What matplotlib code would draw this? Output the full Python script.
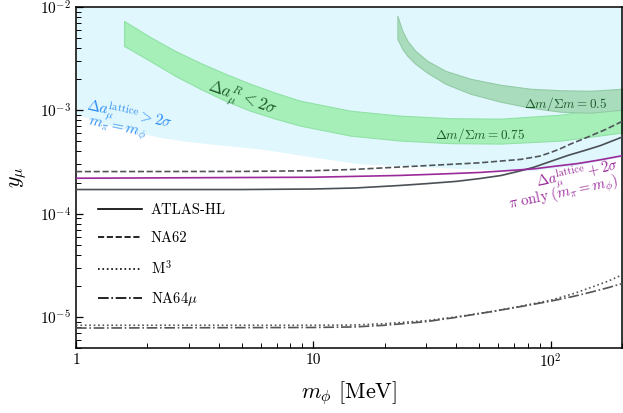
import matplotlib
matplotlib.use('Agg')
import matplotlib.pyplot as plt
from matplotlib.lines import Line2D

plt.rcParams['font.family'] = 'serif'
plt.rcParams['font.serif'] = ['cmr10']
plt.rcParams['mathtext.fontset'] = 'cm'
plt.rcParams['axes.formatter.use_mathtext'] = True

# lower edge of the lattice > 2 sigma region (region extends to top of plot)
lat_x = [1.0, 1.18, 1.391, 1.773, 2.26, 2.88, 3.67, 5.98, 9.7, 15.8, 23.3, 41.7, 84.8, 134, 200]
lat_y = [9.2e-4, 8.11e-4, 7.1e-4, 6.21e-4, 5.47e-4, 5.03e-4, 4.73e-4, 4.23e-4, 3.56e-4,
         3.03e-4, 2.92e-4, 2.73e-4, 2.61e-4, 2.99e-4, 3.56e-4]

# Delta m / Sigma m = 0.75 band
b75_x = [1.594, 2.052, 2.617, 3.336, 4.254, 5.424, 6.915, 8.815, 14.33, 23.29, 37.85, 61.52, 110.2, 200]
b75_hi = [7.33e-3, 5.13e-3, 3.76e-3, 2.88e-3, 2.26e-3, 1.806e-3, 1.479e-3, 1.238e-3, 9.91e-4,
          8.87e-4, 8.39e-4, 8.30e-4, 9.07e-4, 1.107e-3]
b75_lo = [4.20e-3, 3.01e-3, 2.158e-3, 1.616e-3, 1.238e-3, 9.91e-4, 8.30e-4, 7.10e-4, 5.69e-4,
          5.09e-4, 4.81e-4, 4.76e-4, 5.09e-4, 6.08e-4]

# Delta m / Sigma m = 0.5 band
b50_x = [22.62, 23.74, 24.93, 26.94, 30.27, 36.06, 45.97, 61.52, 82.34, 110.2, 147.5, 200]
b50_hi = [8.19e-3, 5.87e-3, 4.70e-3, 3.76e-3, 3.01e-3, 2.41e-3, 2.018e-3, 1.767e-3, 1.616e-3,
          1.563e-3, 1.546e-3, 1.616e-3]
b50_lo = [4.91e-3, 3.93e-3, 3.365e-3, 2.817e-3, 2.306e-3, 1.806e-3, 1.446e-3, 1.211e-3, 1.059e-3,
          9.69e-4, 9.48e-4, 1.013e-3]

# lattice + 2 sigma, pi only
pi_x = [1, 10, 23, 35, 50, 65, 85, 105, 130, 160, 200]
pi_y = [2.2e-4, 2.25e-4, 2.34e-4, 2.42e-4, 2.5e-4, 2.6e-4, 2.71e-4, 2.88e-4, 3.05e-4, 3.3e-4, 3.63e-4]

# experiments
atlas_x = [1, 5, 10, 15, 23, 30, 40, 50, 62, 75, 85, 100, 118, 140, 162, 200]
atlas_y = [1.71e-4, 1.71e-4, 1.73e-4, 1.77e-4, 1.87e-4, 1.95e-4, 2.05e-4, 2.18e-4, 2.34e-4,
           2.6e-4, 2.81e-4, 3.2e-4, 3.65e-4, 4.1e-4, 4.55e-4, 5.5e-4]

na62_x = [1, 5, 10, 15, 25, 35, 50, 75, 90, 100, 110, 121, 135, 150, 170, 200]
na62_y = [2.55e-4, 2.56e-4, 2.6e-4, 2.68e-4, 2.85e-4, 2.97e-4, 3.1e-4, 3.35e-4, 3.6e-4, 3.9e-4,
          4.25e-4, 4.7e-4, 5.2e-4, 5.75e-4, 6.5e-4, 7.8e-4]

m3_x = [1, 10, 15, 20, 30, 40, 57, 75, 100, 125, 150, 175, 200]
m3_y = [8.3e-6, 8.3e-6, 8.35e-6, 8.6e-6, 9.2e-6, 1.0e-5, 1.13e-5, 1.27e-5, 1.45e-5, 1.68e-5,
        1.95e-5, 2.22e-5, 2.55e-5]

na64_x = [1, 10, 15, 20, 30, 40, 57, 75, 100, 125, 150, 175, 200]
na64_y = [7.8e-6, 7.9e-6, 8.0e-6, 8.3e-6, 9.0e-6, 9.9e-6, 1.13e-5, 1.26e-5, 1.42e-5, 1.58e-5,
          1.75e-5, 1.92e-5, 2.1e-5]

legend_labels = ['ATLAS-HL', 'NA62', r'M$^3$', r'NA64$\mu$']
xtick_vals = [1, 10, 100]
xtick_labels = ['1', '10', r'$10^2$']

fig = plt.figure(figsize=(6.23, 4.13), dpi=100)
ax = fig.add_axes([76/623, 65/413, 546/623, 341/413])
ax.set_xscale('log')
ax.set_yscale('log')
ax.set_xlim(1, 200)
ax.set_ylim(5e-6, 1e-2)

ax.fill_between(lat_x, lat_y, 1e-2, color='#e0f7fd', lw=0, zorder=1)
ax.fill_between(b75_x, b75_lo, b75_hi, color='#a6efb9', edgecolor='#90e2a6', lw=0.8, zorder=2)
ax.fill_between(b50_x, b50_lo, b50_hi, color='#a9dcbc', edgecolor='#93cba6', lw=0.8, zorder=2)

ax.plot(pi_x, pi_y, color='#9a2a9a', lw=1.2, zorder=4)
ax.plot(atlas_x, atlas_y, '-', color='#4a5055', lw=1.2, zorder=3)
ax.plot(na62_x, na62_y, '--', color='#50555a', lw=1.2, zorder=3)
ax.plot(m3_x, m3_y, ':', color='#555555', lw=1.2, zorder=3)
ax.plot(na64_x, na64_y, '-.', color='#555555', lw=1.2, zorder=3)

# legend uses black handles
handles = [Line2D([], [], color='k', ls=s, lw=1.2) for s in ['-', '--', ':', '-.']]
ax.legend(handles, legend_labels, loc='upper left',
          bbox_to_anchor=(0.017, 0.462), frameon=False, fontsize=10.5,
          labelspacing=0.95, handlelength=3.0, handletextpad=0.6)

tr = ax.transAxes
green = '#1d5a2a'
blue = '#2b8cf2'
purple = '#9a2a9a'
ax.text(0.304, 0.732, r'$\Delta a_\mu^R < 2\sigma$', transform=tr, color=green,
        fontsize=12, rotation=-20, ha='center', va='center', rotation_mode='anchor', zorder=5)
ax.text(0.097, 0.681, r'$\Delta a_\mu^{\rm lattice} > 2\sigma$', transform=tr, color=blue,
        fontsize=11, rotation=-12, ha='center', va='center', rotation_mode='anchor', zorder=5)
ax.text(0.075, 0.640, r'$m_\pi = m_\phi$', transform=tr, color=blue,
        fontsize=11, rotation=-12, ha='center', va='center', rotation_mode='anchor', zorder=5)
ax.text(0.740, 0.626, r'$\Delta m/\Sigma m = 0.75$', transform=tr, color=green,
        fontsize=9.5, ha='center', va='center', zorder=5)
ax.text(0.897, 0.715, r'$\Delta m/\Sigma m = 0.5$', transform=tr, color=green,
        fontsize=9.5, ha='center', va='center', zorder=5)
ax.text(0.918, 0.509, r'$\Delta a_\mu^{\rm lattice} + 2\sigma$', transform=tr, color=purple,
        fontsize=10.5, rotation=12, ha='center', va='center', rotation_mode='anchor', zorder=5)
ax.text(0.893, 0.453, r'$\pi\ \mathrm{only}\ (m_\pi = m_\phi)$', transform=tr, color=purple,
        fontsize=10.5, rotation=12, ha='center', va='center', rotation_mode='anchor', zorder=5)

ax.set_xticks(xtick_vals)
ax.set_xticklabels(xtick_labels)
ax.tick_params(which='both', direction='in', labelsize=11)
ax.tick_params(which='major', length=5, width=0.9)
ax.tick_params(which='minor', length=3.5, width=0.7)
for s in ax.spines.values():
    s.set_linewidth(1.1)

ax.set_xlabel(r'$m_\phi$ [MeV]', fontsize=16, labelpad=6)
ax.set_ylabel(r'$y_\mu$', fontsize=16, labelpad=8)

fig.savefig('out.png', dpi=100)
